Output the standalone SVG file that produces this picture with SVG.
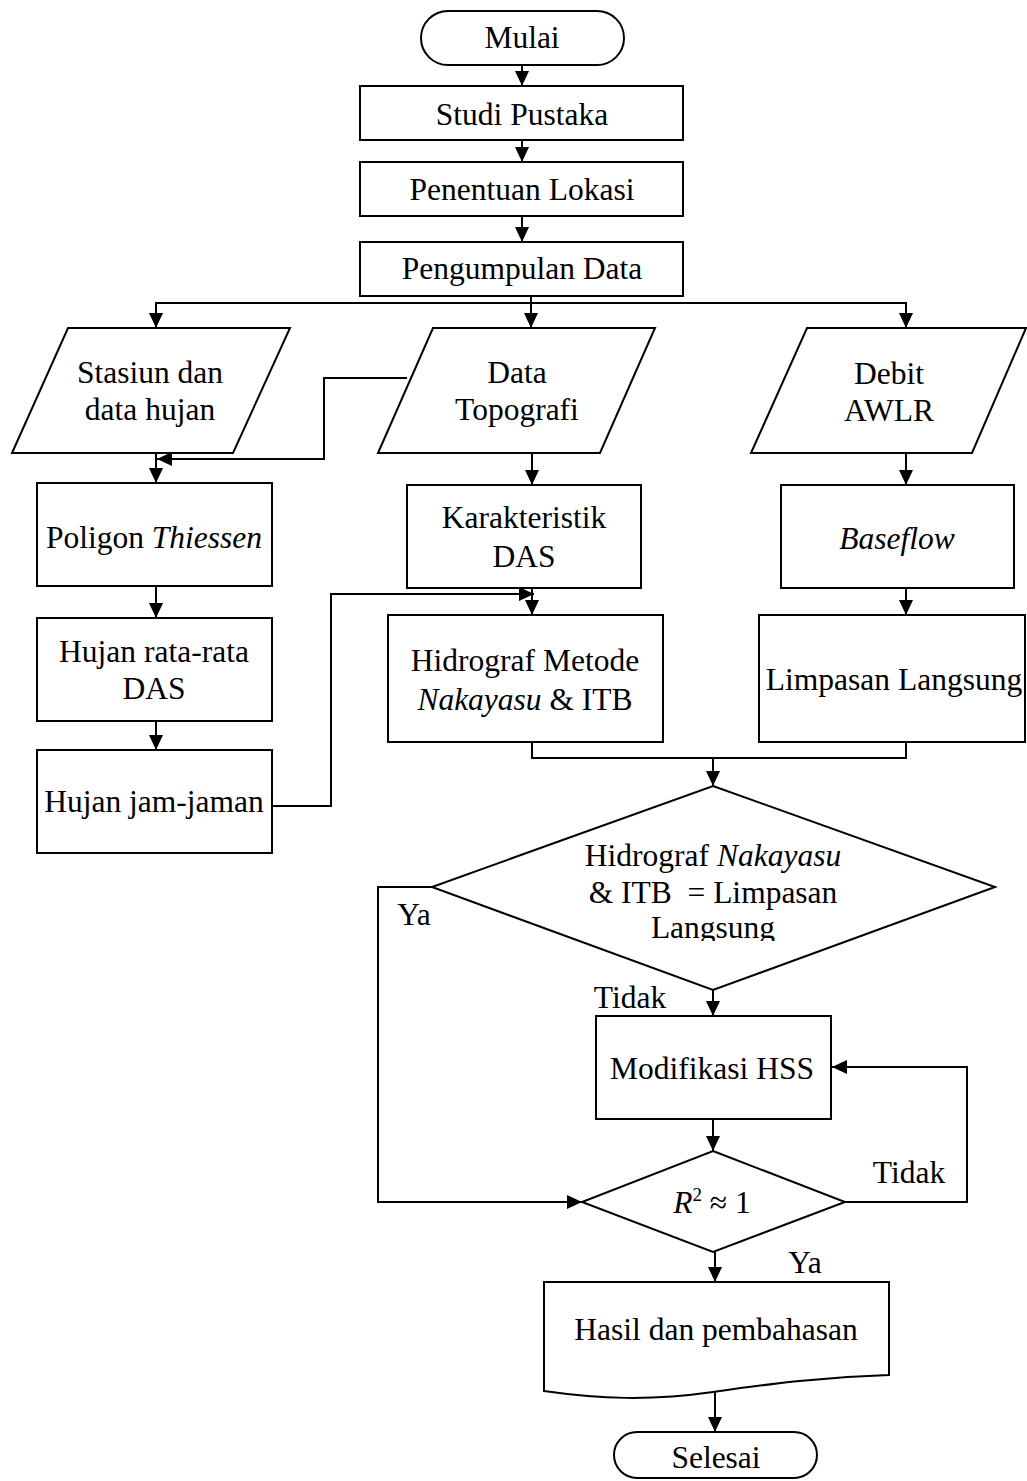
<svg xmlns="http://www.w3.org/2000/svg" width="1027" height="1481" viewBox="0 0 1027 1481">
<style>
.s{fill:#fff;stroke:#000;stroke-width:2}
.c{fill:none;stroke:#000;stroke-width:2}
text{font-family:"Liberation Serif","Times New Roman",serif;font-size:31.5px;fill:#000;text-anchor:middle}
.i{font-style:italic}
</style>
<defs>
<marker id="a" viewBox="0 0 15 14" refX="15" refY="7" markerWidth="15" markerHeight="14" markerUnits="userSpaceOnUse" orient="auto">
<path d="M0,0 L15,7 L0,14 Z" fill="#000"/>
</marker>
<clipPath id="clipL"><rect x="600" y="900" width="230" height="41"/></clipPath>
</defs>

<g id="connectors">
<line class="c" x1="522" y1="65" x2="522" y2="86" marker-end="url(#a)"/>
<line class="c" x1="522" y1="140" x2="522" y2="162" marker-end="url(#a)"/>
<line class="c" x1="522" y1="216" x2="522" y2="242" marker-end="url(#a)"/>
<line class="c" x1="531" y1="296" x2="531" y2="303"/>
<polyline class="c" points="156,328 156,303 906,303 906,328"/>
<line class="c" x1="156" y1="303" x2="156" y2="328" marker-end="url(#a)"/>
<line class="c" x1="531" y1="303" x2="531" y2="328" marker-end="url(#a)"/>
<line class="c" x1="906" y1="303" x2="906" y2="328" marker-end="url(#a)"/>
<polyline class="c" points="407,378 324,378 324,459 157,459" marker-end="url(#a)"/>
<line class="c" x1="156" y1="453" x2="156" y2="483" marker-end="url(#a)"/>
<line class="c" x1="156" y1="586" x2="156" y2="618" marker-end="url(#a)"/>
<line class="c" x1="156" y1="721" x2="156" y2="750" marker-end="url(#a)"/>
<line class="c" x1="532" y1="453" x2="532" y2="485" marker-end="url(#a)"/>
<line class="c" x1="532" y1="588" x2="532" y2="615" marker-end="url(#a)"/>
<polyline class="c" points="273,806 331,806 331,594 534,594" marker-end="url(#a)"/>
<line class="c" x1="906" y1="453" x2="906" y2="485" marker-end="url(#a)"/>
<line class="c" x1="906" y1="588" x2="906" y2="615" marker-end="url(#a)"/>
<polyline class="c" points="532,742 532,758 906,758 906,742"/>
<line class="c" x1="713" y1="758" x2="713" y2="786" marker-end="url(#a)"/>
<line class="c" x1="713" y1="990" x2="713" y2="1016" marker-end="url(#a)"/>
<polyline class="c" points="432,887 378,887 378,1202 582,1202" marker-end="url(#a)"/>
<line class="c" x1="713" y1="1119" x2="713" y2="1151" marker-end="url(#a)"/>
<polyline class="c" points="845,1202 967,1202 967,1067 832,1067" marker-end="url(#a)"/>
<line class="c" x1="715" y1="1252" x2="715" y2="1282" marker-end="url(#a)"/>
<line class="c" x1="715" y1="1392" x2="715" y2="1432" marker-end="url(#a)"/>
</g>

<g id="mulai"><rect class="s" x="421" y="11" width="203" height="54" rx="27" ry="27"/><text x="522" y="48">Mulai</text></g>
<g id="studi"><rect class="s" x="360" y="86" width="323" height="54"/><text x="522" y="125">Studi Pustaka</text></g>
<g id="penentuan"><rect class="s" x="360" y="162" width="323" height="54"/><text x="522" y="200">Penentuan Lokasi</text></g>
<g id="pengumpulan"><rect class="s" x="360" y="242" width="323" height="54"/><text x="522" y="279">Pengumpulan Data</text></g>

<g id="stasiun"><polygon class="s" points="68,328 290,328 233,453 12,453"/><text x="150" y="383">Stasiun dan</text><text x="150" y="420">data hujan</text></g>
<g id="topografi"><polygon class="s" points="433,328 655,328 600,453 378,453"/><text x="517" y="383">Data</text><text x="517" y="420">Topografi</text></g>
<g id="debit"><polygon class="s" points="807,328 1026,328 972,453 751,453"/><text x="889" y="384">Debit</text><text x="889" y="421">AWLR</text></g>

<g id="poligon"><rect class="s" x="37" y="483" width="235" height="103"/><text x="154" y="548">Poligon <tspan class="i">Thiessen</tspan></text></g>
<g id="hujanrata"><rect class="s" x="37" y="618" width="235" height="103"/><text x="154" y="662">Hujan rata-rata</text><text x="154" y="699">DAS</text></g>
<g id="hujanjam"><rect class="s" x="37" y="750" width="235" height="103"/><text x="154" y="812">Hujan jam-jaman</text></g>

<g id="karakteristik"><rect class="s" x="407" y="485" width="234" height="103"/><text x="524" y="528">Karakteristik</text><text x="524" y="567">DAS</text></g>
<g id="hidrograf"><rect class="s" x="388" y="615" width="275" height="127"/><text x="525" y="671">Hidrograf Metode</text><text x="525" y="710"><tspan class="i">Nakayasu</tspan> &amp; ITB</text></g>

<g id="baseflow"><rect class="s" x="781" y="485" width="233" height="103"/><text x="897" y="549" class="i">Baseflow</text></g>
<g id="limpasan"><rect class="s" x="759" y="615" width="266" height="127"/><text x="894" y="690">Limpasan Langsung</text></g>

<g id="decision1"><polygon class="s" points="713,786 995,887 713,990 432,887"/>
<text x="713" y="866">Hidrograf <tspan class="i">Nakayasu</tspan></text>
<text x="713" y="903" xml:space="preserve">&amp; ITB  = Limpasan</text>
<text x="713" y="938" clip-path="url(#clipL)">Langsung</text>
</g>
<g id="label-ya1"><text x="414" y="925">Ya</text></g>
<g id="label-tidak1"><text x="630" y="1008">Tidak</text></g>

<g id="modifikasi"><rect class="s" x="596" y="1016" width="235" height="103"/><text x="712" y="1079">Modifikasi HSS</text></g>

<g id="decision2"><polygon class="s" points="713,1151 845,1202 713,1252 582,1202"/>
<text x="712" y="1213"><tspan class="i">R</tspan><tspan font-size="19" dy="-12">2</tspan><tspan dy="12"> ≈ 1</tspan></text>
</g>
<g id="label-tidak2"><text x="909" y="1183">Tidak</text></g>
<g id="label-ya2"><text x="805" y="1273">Ya</text></g>

<g id="hasil"><path class="s" d="M544,1282 H889 V1375 C820,1377 770,1384 713,1392 C650,1401 600,1399 544,1391 Z"/><text x="716" y="1340">Hasil dan pembahasan</text></g>

<g id="selesai"><rect class="s" x="614" y="1432" width="203" height="46" rx="23" ry="23"/><text x="716" y="1468">Selesai</text></g>
</svg>
